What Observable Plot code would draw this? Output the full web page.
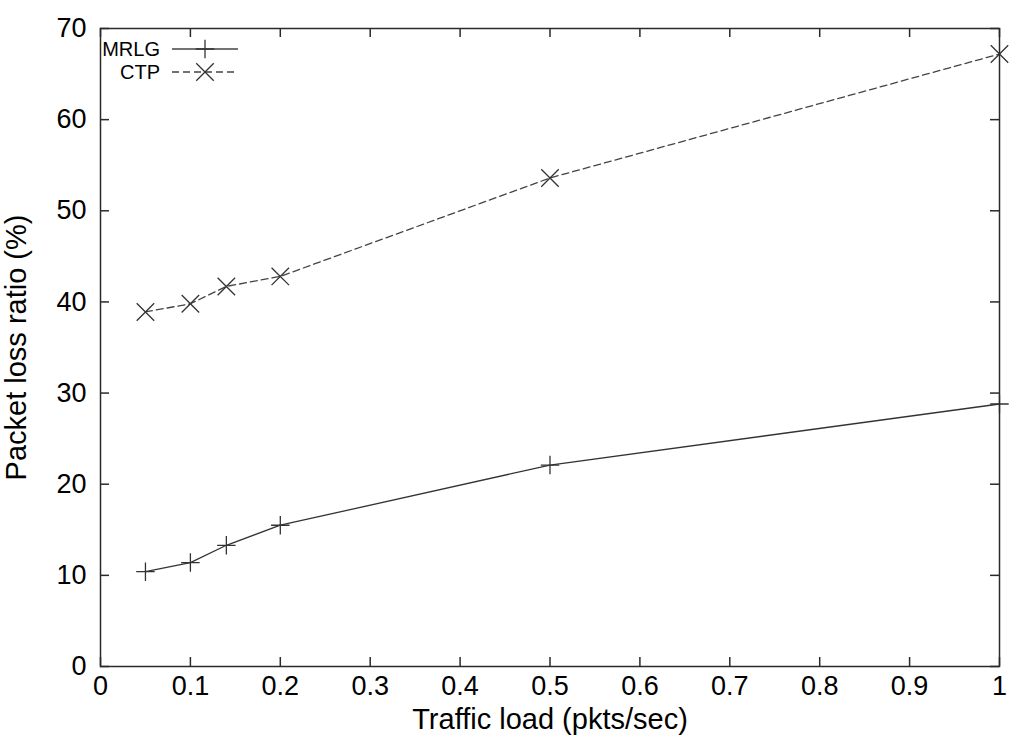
<!DOCTYPE html>
<html>
<head>
<meta charset="utf-8">
<script src="https://cdn.jsdelivr.net/npm/d3@7"></script>
<script src="https://cdn.jsdelivr.net/npm/@observablehq/plot@0.6"></script>
<style>
  html, body { margin: 0; padding: 0; background: #fff; }
  #chart { width: 1024px; height: 744px; }
  svg { font-family: "Liberation Sans", Arial, sans-serif; }
</style>
</head>
<body>
<div id="chart"></div>
<script>
const loads = [0.05, 0.1, 0.14, 0.2, 0.5, 1.0];
const mrlg = [10.4, 11.4, 13.3, 15.5, 22.1, 28.8];
const ctp = [38.9, 39.8, 41.7, 42.8, 53.6, 67.2];
const seriesNames = ["MRLG", "CTP"];
const xTicks = [0, 0.1, 0.2, 0.3, 0.4, 0.5, 0.6, 0.7, 0.8, 0.9, 1];
const yTicks = [0, 10, 20, 30, 40, 50, 60, 70];

const mrlgData = loads.map((x, i) => ({x, y: mrlg[i]}));
const ctpData = loads.map((x, i) => ({x, y: ctp[i]}));

const W = 1024, H = 744;
const mL = 100, mR = 25, mT = 28, mB = 78;
const pw = W - mL - mR, ph = H - mT - mB;
const tk = 9;
const ink = "#2a2a2a";

const chart = Plot.plot({
  width: W,
  height: H,
  marginLeft: mL,
  marginRight: mR,
  marginTop: mT,
  marginBottom: mB,
  style: {fontFamily: "'Liberation Sans', Arial, sans-serif", color: "#000", background: "#fff"},
  x: {domain: [0, 1]},
  y: {domain: [0, 70]},
  marks: [
    // inward ticks
    Plot.tickX(xTicks, {x: d => d, insetTop: ph - tk, stroke: ink, strokeWidth: 1.5}),
    Plot.tickX(xTicks, {x: d => d, insetBottom: ph - tk, stroke: ink, strokeWidth: 1.5}),
    Plot.tickY(yTicks, {y: d => d, insetRight: pw - tk, stroke: ink, strokeWidth: 1.5}),
    Plot.tickY(yTicks, {y: d => d, insetLeft: pw - tk, stroke: ink, strokeWidth: 1.5}),
    Plot.axisX({ticks: xTicks, tickSize: 0, tickPadding: 9, fontSize: 27,
      tickFormat: d => String(d),
      label: "Traffic load (pkts/sec)", labelAnchor: "center", labelArrow: "none", labelOffset: 62}),
    Plot.axisY({ticks: yTicks, tickSize: 0, tickPadding: 14, fontSize: 27,
      label: "Packet loss ratio (%)", labelAnchor: "center", labelArrow: "none", labelOffset: 95}),
    Plot.line(mrlgData, {x: "x", y: "y", stroke: "#333", strokeWidth: 1.3}),
    Plot.line(ctpData, {x: "x", y: "y", stroke: "#444", strokeWidth: 1.3, strokeDasharray: "7,4"}),
    Plot.dot(mrlgData, {x: "x", y: "y", symbol: "plus", r: 6, stroke: "#333", strokeWidth: 1.3}),
    Plot.dot(ctpData, {x: "x", y: "y", symbol: "times", r: 8, stroke: "#333", strokeWidth: 1.3}),
    Plot.frame({stroke: ink, strokeWidth: 1.5})
  ]
});

// axis label font sizes
d3.select(chart).selectAll("g[aria-label='x-axis label'] text, g[aria-label='y-axis label'] text")
  .attr("font-size", 29);

// legend inside the top-left corner
const svg = d3.select(chart);
const lg = svg.append("g").attr("font-size", 20).attr("fill", "#000");
const rows = [
  {name: seriesNames[0], dash: null, sym: d3.symbolPlus, size: Math.PI * 36},
  {name: seriesNames[1], dash: "7,4", sym: d3.symbolTimes, size: Math.PI * 64}
];
rows.forEach((r, i) => {
  const y = 49 + i * 23;
  lg.append("text").attr("x", 160).attr("y", y).attr("dy", "0.35em")
    .attr("text-anchor", "end").text(r.name);
  lg.append("line").attr("x1", 172).attr("x2", 238).attr("y1", y).attr("y2", y)
    .attr("stroke", "#444").attr("stroke-width", 1.3)
    .attr("stroke-dasharray", r.dash);
  lg.append("path").attr("d", d3.symbol(r.sym, r.size)())
    .attr("transform", `translate(205,${y})`)
    .attr("fill", "none").attr("stroke", "#333").attr("stroke-width", 1.3);
});

document.getElementById("chart").appendChild(chart);
</script>
</body>
</html>
